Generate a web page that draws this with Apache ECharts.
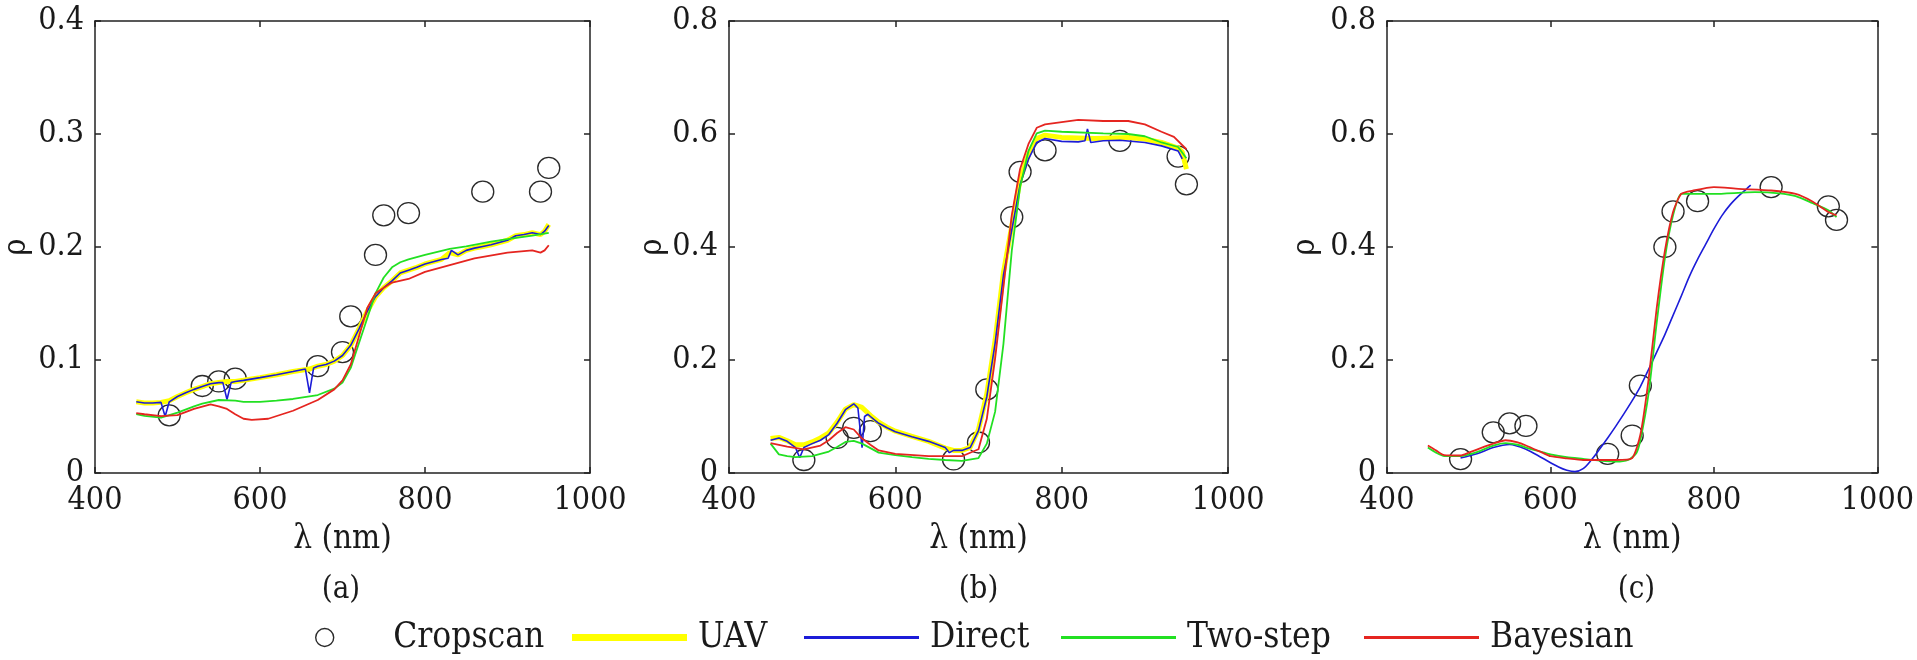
<!DOCTYPE html>
<html><head><meta charset="utf-8">
<script src="https://cdn.jsdelivr.net/npm/echarts/dist/echarts.min.js"></script>
<style>html,body{margin:0;padding:0;background:#fff}#c{width:1917px;height:660px}</style>
</head><body><div id="c"></div><script>
// ---------- DATA ----------
const xTicks = [400, 600, 800, 1000];
const panelLabels = ['(a)', '(b)', '(c)'];
const yMaxs = [0.4, 0.8, 0.8];
const yIntervals = [0.1, 0.2, 0.2];

// Cropscan band wavelengths (nm)
const csWl = [490, 530, 550, 570, 670, 700, 710, 740, 750, 780, 870, 940, 950];
const csA = [0.051, 0.077, 0.081, 0.0835, 0.0945, 0.107, 0.1386, 0.193, 0.228, 0.230, 0.249, 0.249, 0.270];
const csB = [0.023, 0.062, 0.080, 0.074, 0.024, 0.054, 0.148, 0.453, 0.533, 0.571, 0.588, 0.560, 0.511];
const csC = [0.0246, 0.072, 0.0878, 0.0833, 0.034, 0.0663, 0.1547, 0.400, 0.463, 0.481, 0.506, 0.472, 0.448];

// Panel (a)
const uavAWl = [450,460,470,480,490,500,510,520,530,540,550,560,570,580,600,620,640,660,670,680,690,700,710,720,730,740,750,760,770,780,790,800,810,820,830,840,850,860,870,880,890,900,910,920,930,940,945,950];
const uavA = [0.063,0.062,0.062,0.0625,0.064,0.0677,0.071,0.074,0.0765,0.079,0.080,0.081,0.081,0.082,0.0844,0.087,0.0898,0.092,0.0945,0.096,0.099,0.104,0.113,0.1276,0.143,0.156,0.164,0.170,0.177,0.1795,0.182,0.185,0.187,0.189,0.195,0.193,0.197,0.199,0.2005,0.202,0.204,0.206,0.210,0.211,0.2126,0.211,0.214,0.220];
const dirAWl = [450,460,470,480,485,490,500,510,520,530,540,550,555,560,565,570,580,600,620,640,655,660,665,670,680,690,700,710,720,730,740,750,760,770,780,790,800,810,820,828,832,840,850,860,870,880,890,900,910,920,930,940,945,950];
const dirA = [0.063,0.062,0.062,0.0625,0.050,0.063,0.0677,0.071,0.074,0.0765,0.079,0.080,0.080,0.065,0.080,0.081,0.082,0.0844,0.087,0.0898,0.092,0.071,0.093,0.0945,0.096,0.099,0.104,0.113,0.1276,0.143,0.156,0.164,0.170,0.177,0.1795,0.182,0.185,0.187,0.189,0.190,0.197,0.193,0.197,0.199,0.2005,0.202,0.204,0.206,0.210,0.211,0.2126,0.211,0.214,0.219];
const twoAWl = [450,460,480,500,520,530,550,570,580,600,620,640,670,690,700,710,720,730,740,750,760,770,780,800,830,850,880,900,930,950];
const twoA = [0.052,0.0505,0.049,0.0535,0.059,0.0614,0.0646,0.064,0.063,0.063,0.064,0.0655,0.069,0.0746,0.080,0.093,0.115,0.137,0.159,0.173,0.182,0.1865,0.189,0.193,0.1984,0.2006,0.2047,0.207,0.210,0.2126];
const bayAWl = [450,460,480,500,520,540,550,560,570,580,590,610,640,670,690,700,710,720,730,740,750,760,780,800,830,860,900,930,940,945,950];
const bayA = [0.053,0.052,0.0504,0.0513,0.0567,0.0608,0.059,0.0567,0.052,0.048,0.047,0.048,0.0551,0.0646,0.074,0.082,0.096,0.121,0.146,0.159,0.164,0.1685,0.1717,0.178,0.184,0.190,0.195,0.197,0.195,0.197,0.2016];

// Panel (b)
const uavBWl = [450,460,470,480,490,500,510,520,530,540,550,560,570,580,590,600,620,640,660,670,680,690,700,710,720,730,740,750,760,770,780,800,820,840,860,880,900,920,940,945,950];
const uavB = [0.061,0.063,0.057,0.050,0.050,0.055,0.062,0.071,0.090,0.113,0.121,0.116,0.102,0.090,0.081,0.074,0.065,0.056,0.044,0.040,0.040,0.0455,0.077,0.140,0.235,0.355,0.437,0.519,0.563,0.592,0.598,0.594,0.593,0.592,0.593,0.594,0.591,0.585,0.575,0.568,0.538];
const dirBWl = [450,460,470,480,485,490,500,510,520,530,540,550,555,560,563,567,570,580,590,600,620,640,660,665,670,680,690,700,710,720,730,740,750,760,770,780,800,820,828,831,835,850,870,900,920,940,945];
const dirB = [0.058,0.062,0.056,0.045,0.027,0.045,0.052,0.058,0.068,0.088,0.112,0.1225,0.115,0.045,0.100,0.104,0.100,0.088,0.080,0.073,0.064,0.056,0.045,0.036,0.040,0.040,0.045,0.075,0.135,0.230,0.350,0.430,0.510,0.555,0.585,0.592,0.587,0.586,0.588,0.609,0.585,0.588,0.589,0.585,0.579,0.570,0.556];
const twoBWl = [450,460,470,480,500,520,530,540,550,560,570,580,600,620,640,660,680,700,710,720,730,740,750,760,770,780,800,850,880,900,920,940,950];
const twoB = [0.052,0.033,0.030,0.028,0.030,0.038,0.046,0.055,0.057,0.052,0.044,0.036,0.0316,0.028,0.025,0.023,0.0215,0.0265,0.052,0.1086,0.2286,0.393,0.506,0.5695,0.601,0.606,0.604,0.601,0.600,0.596,0.585,0.577,0.557];
const bayBWl = [450,470,490,510,520,530,540,550,560,570,580,600,640,680,700,710,720,730,740,750,760,770,780,800,820,850,880,900,920,935,950];
const bayB = [0.053,0.0467,0.042,0.0486,0.058,0.0707,0.081,0.077,0.061,0.050,0.040,0.034,0.0297,0.0297,0.042,0.096,0.203,0.330,0.456,0.538,0.582,0.611,0.617,0.621,0.625,0.623,0.623,0.617,0.604,0.595,0.573];

// Panel (c)
const dirCWl = [490,510,530,550,570,590,610,620,630,640,650,660,670,680,690,700,710,720,730,740,750,760,770,780,790,800,810,820,830,840,845];
const dirC = [0.0265,0.034,0.045,0.0505,0.042,0.0265,0.0107,0.005,0.0025,0.0076,0.023,0.042,0.062,0.083,0.105,0.128,0.153,0.183,0.214,0.245,0.279,0.313,0.348,0.378,0.405,0.432,0.456,0.475,0.490,0.503,0.5095];
const twoCWl = [450,460,470,490,510,530,545,560,570,590,600,620,640,660,680,695,705,710,720,730,740,750,760,770,800,850,880,900,920,940,950];
const twoC = [0.045,0.036,0.030,0.030,0.037,0.0486,0.053,0.050,0.045,0.037,0.033,0.028,0.025,0.022,0.020,0.023,0.035,0.058,0.140,0.266,0.380,0.456,0.494,0.494,0.494,0.497,0.495,0.490,0.478,0.465,0.453];
const bayCWl = [450,460,470,490,500,520,530,545,560,570,590,600,620,640,660,680,700,710,720,730,740,750,760,775,800,830,870,900,920,940,950];
const bayC = [0.0486,0.040,0.0316,0.031,0.036,0.047,0.052,0.058,0.054,0.0486,0.036,0.0297,0.026,0.023,0.023,0.023,0.0265,0.0676,0.165,0.292,0.393,0.462,0.494,0.500,0.506,0.503,0.500,0.494,0.481,0.462,0.456];

// ---------- BUILD ----------
const zip = (xs, ys) => xs.map((x, i) => [x, ys[i]]);
const FONT = '"DejaVu Serif Condensed", "DejaVu Serif"';
const TXT = '#1a1a1a';
const AX = '#222';
const COL = {uav: '#ffff00', dir: '#1c1cd8', two: '#22e022', bay: '#e52520'};

const grids = [
  {left: 92, top: 21, width: 498, height: 452},
  {left: 729, top: 21, width: 499, height: 452},
  {left: 1387, top: 21, width: 499, height: 452}
];
const yNameGaps = [62, 59, 65];

const xAxes = [], yAxes = [];
grids.forEach((g, i) => {
  const lineS = {show: true, onZero: false, lineStyle: {color: AX, width: 1.5}};
  const tickS = {show: true, inside: true, length: 6, lineStyle: {color: AX, width: 1.5}};
  xAxes.push({gridIndex: i, type: 'value', min: xTicks[0], max: xTicks[xTicks.length - 1], interval: xTicks[1] - xTicks[0], position: 'bottom',
    axisLine: lineS, axisTick: tickS, splitLine: {show: false},
    axisLabel: {fontFamily: FONT, fontSize: 32, color: TXT, margin: 12, formatter: v => String(v)},
    name: 'λ (nm)', nameLocation: 'middle', nameGap: 50, nameTextStyle: {fontFamily: FONT, fontSize: 33, color: TXT}});
  xAxes.push({gridIndex: i, type: 'value', min: xTicks[0], max: xTicks[xTicks.length - 1], interval: xTicks[1] - xTicks[0], position: 'top',
    axisLine: lineS, axisTick: tickS, splitLine: {show: false}, axisLabel: {show: false}});
  yAxes.push({gridIndex: i, type: 'value', min: 0, max: yMaxs[i], interval: yIntervals[i], position: 'left',
    axisLine: lineS, axisTick: tickS, splitLine: {show: false},
    axisLabel: {fontFamily: FONT, fontSize: 32, color: TXT, margin: 11, formatter: v => String(+v.toFixed(2))},
    name: 'ρ', nameLocation: 'middle', nameGap: yNameGaps[i], nameRotate: 90, nameTextStyle: {fontFamily: FONT, fontSize: 32, color: TXT}});
  yAxes.push({gridIndex: i, type: 'value', min: 0, max: yMaxs[i], interval: yIntervals[i], position: 'right',
    axisLine: lineS, axisTick: tickS, splitLine: {show: false}, axisLabel: {show: false}});
});

const series = [];
function scat(i, ys) {
  series.push({name: 'Cropscan', type: 'scatter', xAxisIndex: 2 * i, yAxisIndex: 2 * i, data: zip(csWl, ys),
    symbol: 'circle', symbolSize: [22, 21], z: 1,
    itemStyle: {color: 'rgba(255,255,255,0)', borderColor: '#2a2a2a', borderWidth: 1.3, opacity: 1}});
}
function line(i, name, xs, ys, color, width, smooth) {
  series.push({name, type: 'line', xAxisIndex: 2 * i, yAxisIndex: 2 * i, data: zip(xs, ys),
    showSymbol: false, symbol: 'none', smooth: smooth || false, color,
    lineStyle: {color, width}, z: 2});
}
scat(0, csA);
line(0, 'UAV', uavAWl, uavA, COL.uav, 5);
line(0, 'Direct', dirAWl, dirA, COL.dir, 1.6);
line(0, 'Two-step', twoAWl, twoA, COL.two, 1.8);
line(0, 'Bayesian', bayAWl, bayA, COL.bay, 1.8);
scat(1, csB);
line(1, 'UAV', uavBWl, uavB, COL.uav, 5);
line(1, 'Direct', dirBWl, dirB, COL.dir, 1.6);
line(1, 'Two-step', twoBWl, twoB, COL.two, 1.8);
line(1, 'Bayesian', bayBWl, bayB, COL.bay, 1.8);
scat(2, csC);
line(2, 'Direct', dirCWl, dirC, COL.dir, 1.6, 0.3);
line(2, 'Two-step', twoCWl, twoC, COL.two, 1.8, 0.2);
line(2, 'Bayesian', bayCWl, bayC, COL.bay, 1.8, 0.2);

const graphic = grids.map((g, i) => ({
  type: 'text', x: g.left + g.width / 2, y: 590,
  style: {text: panelLabels[i], fontFamily: FONT, fontSize: 31, fill: TXT,
    textAlign: 'center', textVerticalAlign: 'middle', align: 'center', verticalAlign: 'middle'}
}));

const legendNames = ['Cropscan', 'UAV', 'Direct', 'Two-step', 'Bayesian'];
const legendLefts = [315, 572, 804, 1061, 1364];
const legendIcons = ['circle', 'path://M0,0H115V7H0Z', 'path://M0,0H115V3H0Z', 'path://M0,0H115V3H0Z', 'path://M0,0H115V3H0Z'];
const legendStyles = [
  {color: 'rgba(255,255,255,0)', borderColor: '#2a2a2a', borderWidth: 1.4},
  {color: COL.uav, borderWidth: 0},
  {color: COL.dir, borderWidth: 0},
  {color: COL.two, borderWidth: 0},
  {color: COL.bay, borderWidth: 0}
];
const legend = legendNames.map((n, i) => ({
  left: legendLefts[i], top: 620, padding: 0, itemWidth: 115, itemHeight: 18,
  selectedMode: false,
  textStyle: {fontFamily: FONT, fontSize: 35, color: TXT, padding: [0, 0, 0, 6]},
  data: [{name: n, icon: legendIcons[i], itemStyle: legendStyles[i]}]
}));

const option = {
  animation: false,
  backgroundColor: '#fff',
  textStyle: {fontFamily: FONT},
  grid: grids,
  xAxis: xAxes,
  yAxis: yAxes,
  series,
  graphic,
  legend
};
const chart = echarts.init(document.getElementById('c'), null, {renderer: 'canvas'});
chart.setOption(option);
</script></body></html>
